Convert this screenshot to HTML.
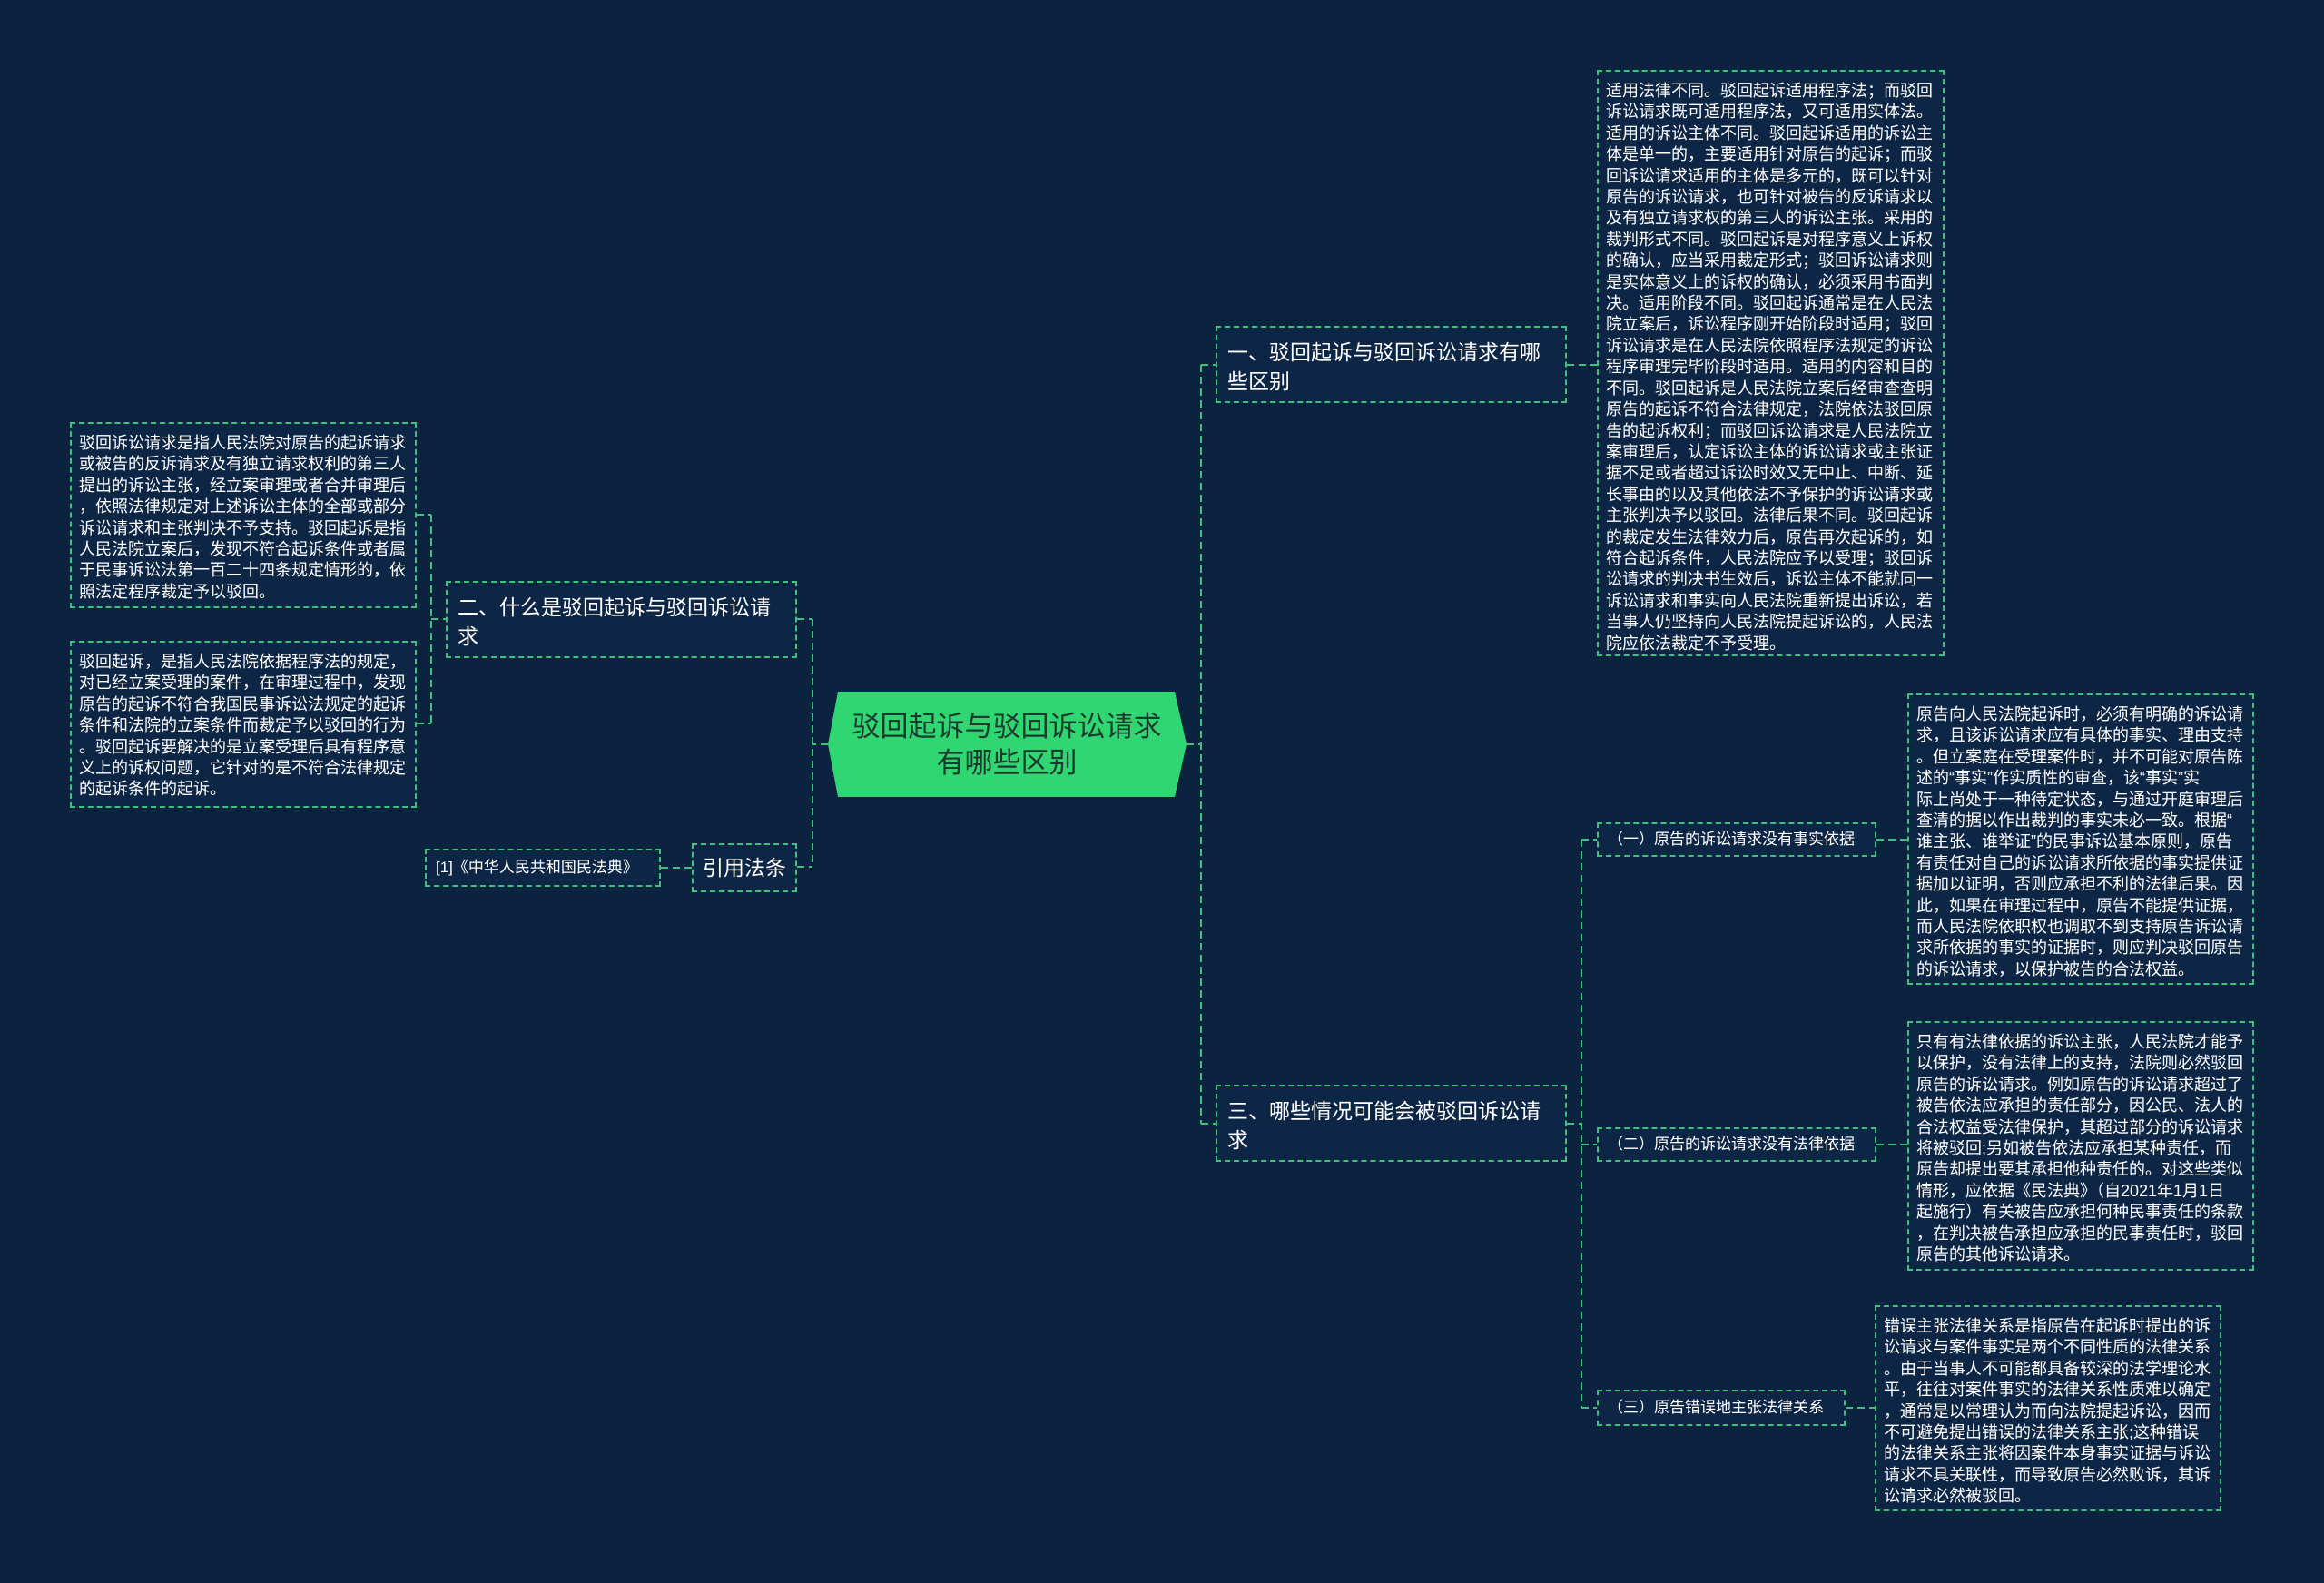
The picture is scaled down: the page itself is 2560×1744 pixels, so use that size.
<!DOCTYPE html>
<html><head><meta charset="utf-8"><style>
html,body{margin:0;padding:0}
body{width:2560px;height:1744px;background:#0c2340;position:relative;overflow:hidden;font-family:"Liberation Sans","Noto Sans CJK SC",sans-serif;color:#fff}
.b{position:absolute;box-sizing:border-box;border:2px dashed #3cc27a;background:#0e2646;white-space:nowrap}
.t{font-size:18px;line-height:23.4px;padding:10px 8px}
.n{font-size:23px;line-height:32px;padding:11px 11px}
.s{font-size:17px;line-height:34px;padding:0 10px}
svg{position:absolute;left:0;top:0}
</style></head><body>
<svg width="2560" height="1744">
<g stroke="#3cc27a" stroke-width="2" stroke-dasharray="8 5" fill="none">
<path d="M912 820 H895 M895 682 V955 M878 682 H895 M878 955 H895"/>
<path d="M728 956 H762"/>
<path d="M459 567 H475 M459 797 H475 M475 567 V797 M475 682 H491"/>
<path d="M1307 820 H1323 M1323 402 V1238 M1323 402 H1339 M1323 1238 H1339"/>
<path d="M1726 402 H1759"/>
<path d="M1726 1238 H1742 M1742 925 V1551 M1742 925 H1759 M1742 1261 H1759 M1742 1551 H1759"/>
<path d="M2067 925 H2101 M2067 1261 H2101 M2033 1551 H2065"/>
</g>
<polygon points="923,762 1294,762 1307,820 1294,878 923,878 912,820" fill="#2fd672"/>
<text x="1109" y="811" font-size="31" fill="#1b3b2c" text-anchor="middle" font-family="Liberation Sans, Noto Sans CJK SC, sans-serif">驳回起诉与驳回诉讼请求</text>
<text x="1109" y="851" font-size="31" fill="#1b3b2c" text-anchor="middle" font-family="Liberation Sans, Noto Sans CJK SC, sans-serif">有哪些区别</text>
</svg>

<div class="b n" style="left:1339px;top:359px;width:387px;height:85px">一、驳回起诉与驳回诉讼请求有哪<br>些区别</div>
<div class="b n" style="left:1339px;top:1195px;width:387px;height:85px">三、哪些情况可能会被驳回诉讼请<br>求</div>
<div class="b n" style="left:491px;top:640px;width:387px;height:85px">二、什么是驳回起诉与驳回诉讼请<br>求</div>
<div class="b" style="left:762px;top:929px;width:116px;height:54px;font-size:23px;line-height:50px;text-align:center">引用法条</div>
<div class="b" style="left:468px;top:935px;width:260px;height:42px;font-size:17px;line-height:38px;padding-left:10px">[1]《中华人民共和国民法典》</div>

<div class="b s" style="left:1759px;top:906px;width:308px;height:38px">（一）原告的诉讼请求没有事实依据</div>
<div class="b s" style="left:1759px;top:1242px;width:308px;height:38px">（二）原告的诉讼请求没有法律依据</div>
<div class="b s" style="left:1759px;top:1531px;width:274px;height:40px;line-height:36px">（三）原告错误地主张法律关系</div>

<div class="b t" style="left:1759px;top:77px;width:383px;height:646px">适用法律不同。驳回起诉适用程序法；而驳回<br>诉讼请求既可适用程序法，又可适用实体法。<br>适用的诉讼主体不同。驳回起诉适用的诉讼主<br>体是单一的，主要适用针对原告的起诉；而驳<br>回诉讼请求适用的主体是多元的，既可以针对<br>原告的诉讼请求，也可针对被告的反诉请求以<br>及有独立请求权的第三人的诉讼主张。采用的<br>裁判形式不同。驳回起诉是对程序意义上诉权<br>的确认，应当采用裁定形式；驳回诉讼请求则<br>是实体意义上的诉权的确认，必须采用书面判<br>决。适用阶段不同。驳回起诉通常是在人民法<br>院立案后，诉讼程序刚开始阶段时适用；驳回<br>诉讼请求是在人民法院依照程序法规定的诉讼<br>程序审理完毕阶段时适用。适用的内容和目的<br>不同。驳回起诉是人民法院立案后经审查查明<br>原告的起诉不符合法律规定，法院依法驳回原<br>告的起诉权利；而驳回诉讼请求是人民法院立<br>案审理后，认定诉讼主体的诉讼请求或主张证<br>据不足或者超过诉讼时效又无中止、中断、延<br>长事由的以及其他依法不予保护的诉讼请求或<br>主张判决予以驳回。法律后果不同。驳回起诉<br>的裁定发生法律效力后，原告再次起诉的，如<br>符合起诉条件，人民法院应予以受理；驳回诉<br>讼请求的判决书生效后，诉讼主体不能就同一<br>诉讼请求和事实向人民法院重新提出诉讼，若<br>当事人仍坚持向人民法院提起诉讼的，人民法<br>院应依法裁定不予受理。</div>

<div class="b t" style="left:77px;top:465px;width:382px;height:205px">驳回诉讼请求是指人民法院对原告的起诉请求<br>或被告的反诉请求及有独立请求权利的第三人<br>提出的诉讼主张，经立案审理或者合并审理后<br>，依照法律规定对上述诉讼主体的全部或部分<br>诉讼请求和主张判决不予支持。驳回起诉是指<br>人民法院立案后，发现不符合起诉条件或者属<br>于民事诉讼法第一百二十四条规定情形的，依<br>照法定程序裁定予以驳回。</div>

<div class="b t" style="left:77px;top:706px;width:382px;height:184px">驳回起诉，是指人民法院依据程序法的规定，<br>对已经立案受理的案件，在审理过程中，发现<br>原告的起诉不符合我国民事诉讼法规定的起诉<br>条件和法院的立案条件而裁定予以驳回的行为<br>。驳回起诉要解决的是立案受理后具有程序意<br>义上的诉权问题，它针对的是不符合法律规定<br>的起诉条件的起诉。</div>

<div class="b t" style="left:2101px;top:764px;width:382px;height:321px">原告向人民法院起诉时，必须有明确的诉讼请<br>求，且该诉讼请求应有具体的事实、理由支持<br>。但立案庭在受理案件时，并不可能对原告陈<br>述的“事实”作实质性的审查，该“事实”实<br>际上尚处于一种待定状态，与通过开庭审理后<br>查清的据以作出裁判的事实未必一致。根据“<br>谁主张、谁举证”的民事诉讼基本原则，原告<br>有责任对自己的诉讼请求所依据的事实提供证<br>据加以证明，否则应承担不利的法律后果。因<br>此，如果在审理过程中，原告不能提供证据，<br>而人民法院依职权也调取不到支持原告诉讼请<br>求所依据的事实的证据时，则应判决驳回原告<br>的诉讼请求，以保护被告的合法权益。</div>

<div class="b t" style="left:2101px;top:1125px;width:382px;height:275px">只有有法律依据的诉讼主张，人民法院才能予<br>以保护，没有法律上的支持，法院则必然驳回<br>原告的诉讼请求。例如原告的诉讼请求超过了<br>被告依法应承担的责任部分，因公民、法人的<br>合法权益受法律保护，其超过部分的诉讼请求<br>将被驳回;另如被告依法应承担某种责任，而<br>原告却提出要其承担他种责任的。对这些类似<br>情形，应依据《民法典》（自2021年1月1日<br>起施行）有关被告应承担何种民事责任的条款<br>，在判决被告承担应承担的民事责任时，驳回<br>原告的其他诉讼请求。</div>

<div class="b t" style="left:2065px;top:1438px;width:382px;height:227px">错误主张法律关系是指原告在起诉时提出的诉<br>讼请求与案件事实是两个不同性质的法律关系<br>。由于当事人不可能都具备较深的法学理论水<br>平，往往对案件事实的法律关系性质难以确定<br>，通常是以常理认为而向法院提起诉讼，因而<br>不可避免提出错误的法律关系主张;这种错误<br>的法律关系主张将因案件本身事实证据与诉讼<br>请求不具关联性，而导致原告必然败诉，其诉<br>讼请求必然被驳回。</div>
</body></html>
